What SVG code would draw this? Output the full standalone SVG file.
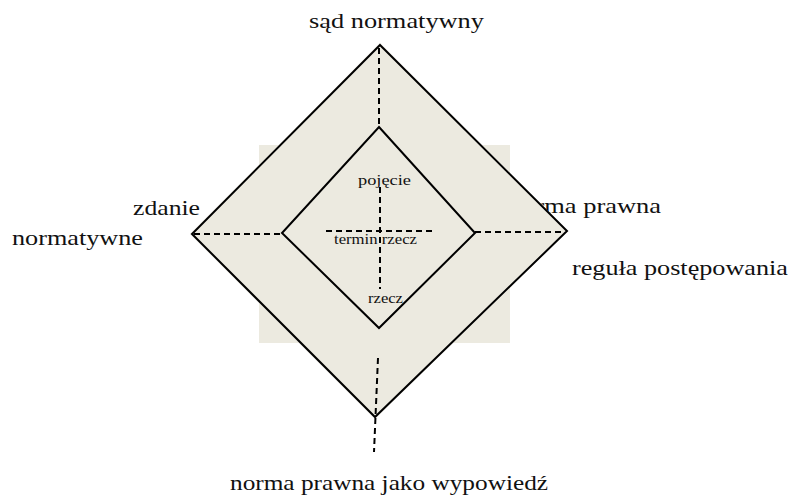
<svg xmlns="http://www.w3.org/2000/svg" width="793" height="495" viewBox="0 0 793 495">
<style>
.fill{fill:#ECEAE0;stroke:none}
.edge{fill:none;stroke:#000;stroke-width:2;stroke-linejoin:miter}
.dash{fill:none;stroke:#000;stroke-width:2;stroke-dasharray:6 4}
.big{font-size:21px;fill:#111}
.small{font-size:15px;fill:#111}
</style>
<rect width="793" height="495" fill="#fff"/>
<g font-family="Liberation Serif, Times New Roman, serif">
<g id="label-norma-prawna">
<text class="big" x="509" y="213" textLength="152" lengthAdjust="spacingAndGlyphs">norma prawna</text>
</g>
</g>
<g id="background">
<rect class="fill" x="259" y="145" width="251" height="198"/>
</g>
<g id="outer-diamond">
<polygon class="fill" points="380,43 568,231 375,419 190,234"/>
<polygon class="edge" points="380,45 567,231 375,417 192,234"/>
</g>
<g id="inner-diamond">
<polygon class="edge" points="379,127 475,233 379,328 282,233"/>
</g>
<g id="connectors">
<line class="dash" x1="379" y1="48" x2="379" y2="125"/>
<line class="dash" x1="380" y1="187" x2="380" y2="289"/>
<line class="dash" x1="326" y1="231" x2="433" y2="231"/>
<line class="dash" x1="194" y1="234" x2="282" y2="234"/>
<line class="dash" x1="475" y1="232" x2="565" y2="232"/>
<line class="dash" x1="378" y1="358" x2="374" y2="452"/>
</g>
<g font-family="Liberation Serif, Times New Roman, serif">
<g id="label-sad">
<text class="big" x="309" y="28" textLength="175" lengthAdjust="spacingAndGlyphs">sąd normatywny</text>
</g>
<g id="label-zdanie">
<text class="big" x="133" y="215" textLength="67" lengthAdjust="spacingAndGlyphs">zdanie</text>
<text class="big" x="12" y="245" textLength="131" lengthAdjust="spacingAndGlyphs">normatywne</text>
</g>
<g id="label-regula">
<text class="big" x="572" y="275" textLength="216" lengthAdjust="spacingAndGlyphs">reguła postępowania</text>
</g>
<g id="label-wypowiedz">
<text class="big" x="230" y="490" textLength="318" lengthAdjust="spacingAndGlyphs">norma prawna jako wypowiedź</text>
</g>
<g id="label-pojecie">
<text class="small" x="358" y="185" textLength="53" lengthAdjust="spacingAndGlyphs">pojęcie</text>
</g>
<g id="label-termin">
<text class="small" x="334" y="244" textLength="83" lengthAdjust="spacingAndGlyphs">termin rzecz</text>
</g>
<g id="label-rzecz">
<text class="small" x="368" y="303" textLength="35" lengthAdjust="spacingAndGlyphs">rzecz</text>
</g>
</g>
</svg>
